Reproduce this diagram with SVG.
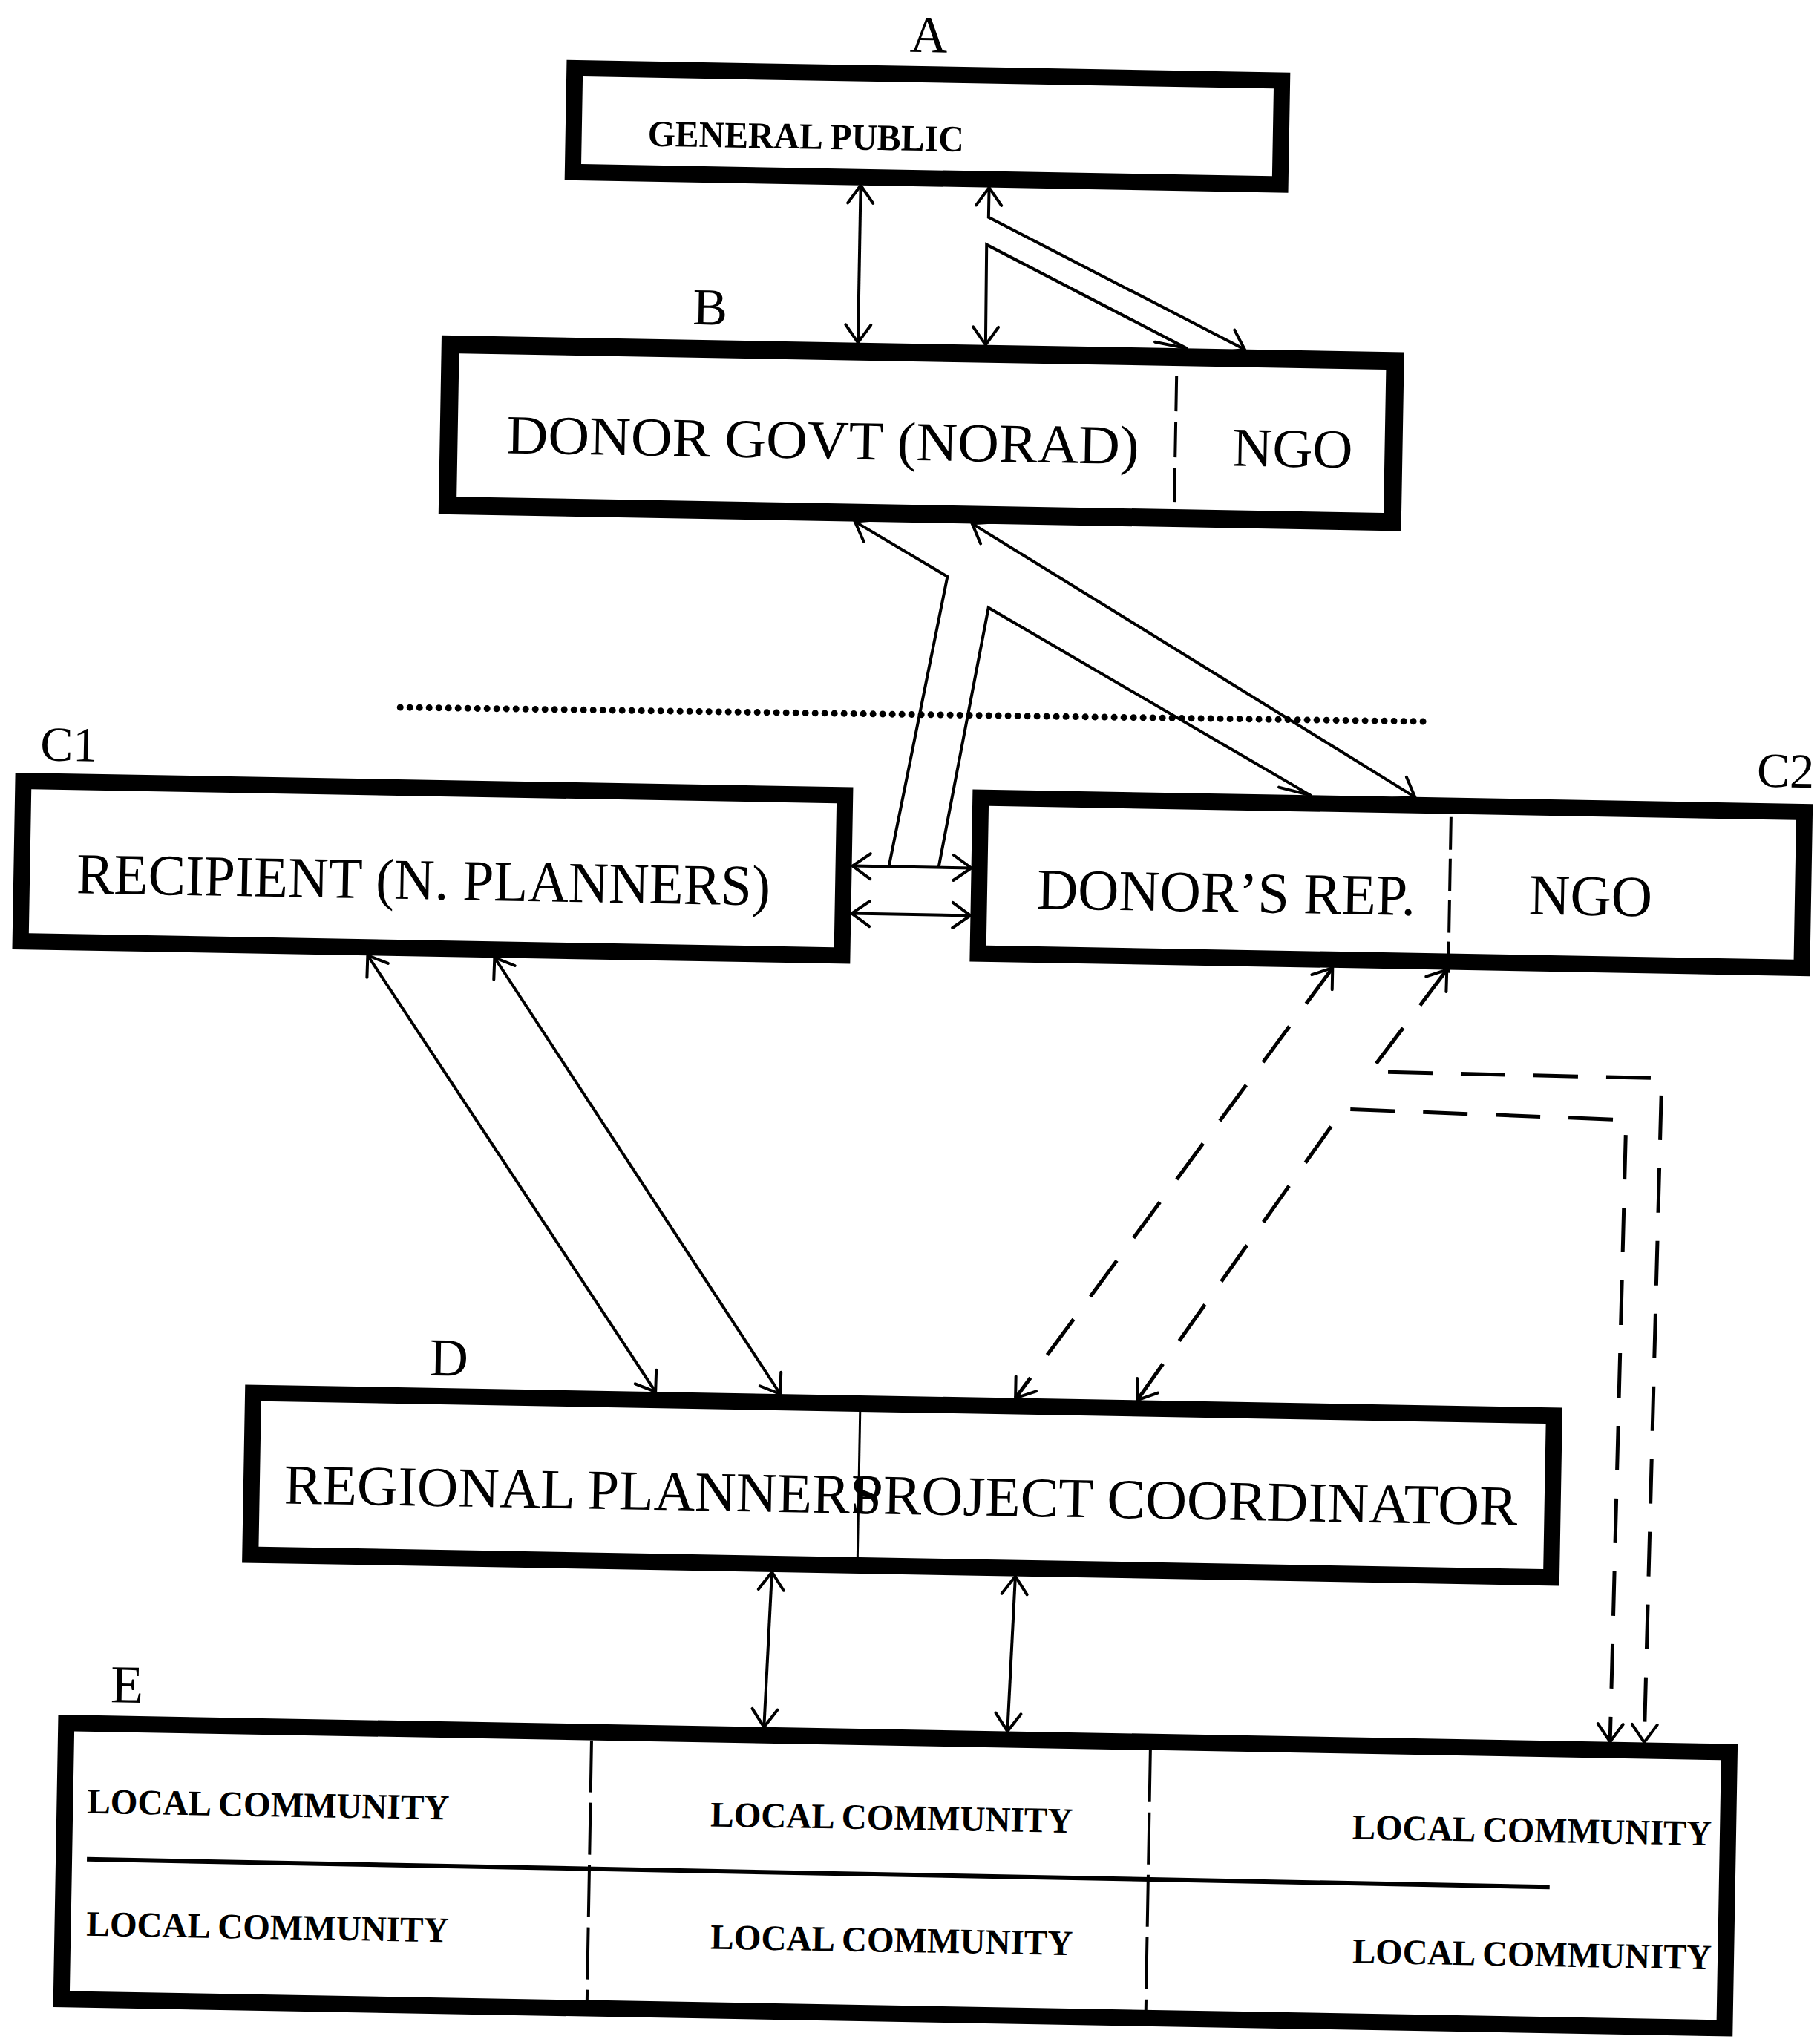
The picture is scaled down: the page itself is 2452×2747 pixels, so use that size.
<svg xmlns="http://www.w3.org/2000/svg" width="2452" height="2747" viewBox="0 0 2452 2747">
<style>
.box{fill:#fff;stroke:#000}
.conn{fill:none;stroke:#000;stroke-width:4;stroke-linejoin:miter}
.dash{stroke-width:5;stroke-dasharray:60 38}
.div{stroke:#000;fill:none}
text{font-family:"Liberation Serif","Times New Roman",serif;fill:#000}
.lbl{font-size:70px}
.lc{font-size:48px;font-weight:bold}
</style>
<defs>
<marker id="arr" viewBox="-40 -25 45 50" refX="0" refY="0" markerWidth="45" markerHeight="50" markerUnits="userSpaceOnUse" orient="auto-start-reverse">
<path d="M-24,-17 L0,0 L-24,17" fill="none" stroke="#000" stroke-width="4" stroke-linecap="round"/>
</marker>
<marker id="half" viewBox="-50 -20 55 40" refX="0" refY="0" markerWidth="55" markerHeight="40" markerUnits="userSpaceOnUse" orient="auto">
<path d="M0,0 L-42,12" fill="none" stroke="#000" stroke-width="4" stroke-linecap="round"/>
</marker>
</defs>
<rect x="0" y="0" width="2452" height="2747" fill="#fff"/>
<g transform="rotate(1 1226 1373)">
<g id="node-A">
<text class="lbl" x="1228" y="70" text-anchor="middle">A</text>
<rect class="box" x="752" y="100" width="953" height="140" stroke-width="22"/>
<text x="852" y="203" font-size="50" font-weight="bold" textLength="426" lengthAdjust="spacingAndGlyphs">GENERAL PUBLIC</text>
</g>
<g id="node-B">
<text class="lbl" x="940" y="442" text-anchor="middle" font-size="68">B</text>
<rect class="box" x="591" y="475" width="1273" height="217" stroke-width="24"/>
<line class="div" x1="1570" y1="500" x2="1570" y2="670" stroke-width="4" stroke-dasharray="48 14"/>
<text x="669" y="620" font-size="74" textLength="852" lengthAdjust="spacingAndGlyphs">DONOR GOVT (NORAD)</text>
<text x="1647" y="620" font-size="74" textLength="162" lengthAdjust="spacingAndGlyphs">NGO</text>
</g>
<g id="node-C1">
<text x="48" y="1045" font-size="66">C1</text>
<rect class="box" x="26" y="1073" width="1107" height="216" stroke-width="22"/>
<text x="100" y="1223" font-size="78" textLength="935" lengthAdjust="spacingAndGlyphs">RECIPIENT (N. PLANNERS)</text>
</g>
<g id="node-C2">
<text x="2361" y="1040" font-size="66">C2</text>
<rect class="box" x="1316" y="1073" width="1110" height="210" stroke-width="22"/>
<line class="div" x1="1950" y1="1088" x2="1950" y2="1298" stroke-width="4" stroke-dasharray="44 12"/>
<text x="1394" y="1221" font-size="78" textLength="510" lengthAdjust="spacingAndGlyphs">DONOR’S REP.</text>
<text x="2057" y="1217" font-size="78" textLength="166" lengthAdjust="spacingAndGlyphs">NGO</text>
</g>
<g id="node-D">
<text x="587" y="1864" font-size="72">D</text>
<rect class="box" x="350" y="1892" width="1753" height="218" stroke-width="22"/>
<line class="div" x1="1168" y1="1902" x2="1168" y2="2100" stroke-width="3"/>
<text x="394" y="2040" font-size="76" textLength="805" lengthAdjust="spacingAndGlyphs">REGIONAL PLANNERS</text>
<text x="1158" y="2040" font-size="76" textLength="898" lengthAdjust="spacingAndGlyphs">PROJECT COORDINATOR</text>
</g>
<g id="node-E">
<text x="165" y="2312" font-size="72">E</text>
<rect class="box" x="106" y="2341" width="2241" height="372" stroke-width="22"/>
<line class="div" x1="814" y1="2352" x2="814" y2="2712" stroke-width="4" stroke-dasharray="70 14"/>
<line class="div" x1="1567" y1="2352" x2="1567" y2="2712" stroke-width="4" stroke-dasharray="70 14"/>
<line class="div" x1="137" y1="2524" x2="2108" y2="2527" stroke-width="6"/>
<text class="lc" x="136" y="2462" textLength="488" lengthAdjust="spacingAndGlyphs">LOCAL COMMUNITY</text>
<text class="lc" x="976" y="2465" textLength="488" lengthAdjust="spacingAndGlyphs">LOCAL COMMUNITY</text>
<text class="lc" x="1841" y="2467" textLength="484" lengthAdjust="spacingAndGlyphs">LOCAL COMMUNITY</text>
<text class="lc" x="138" y="2627" textLength="488" lengthAdjust="spacingAndGlyphs">LOCAL COMMUNITY</text>
<text class="lc" x="979" y="2630" textLength="488" lengthAdjust="spacingAndGlyphs">LOCAL COMMUNITY</text>
<text class="lc" x="1844" y="2634" textLength="484" lengthAdjust="spacingAndGlyphs">LOCAL COMMUNITY</text>
</g>
<g id="connectors">
<path class="conn" d="M1140,251 L1140,463" marker-start="url(#arr)" marker-end="url(#arr)"/>
<path class="conn" d="M1313,251 L1313,291 L1661,463" marker-start="url(#arr)" marker-end="url(#arr)"/>
<path class="conn" d="M1312,463 L1311,328 L1583,463" marker-start="url(#arr)" marker-end="url(#half)"/>
<path class="conn" d="M1140,704 L1266,776 L1194,1168" marker-start="url(#arr)"/>
<path class="conn" d="M1261,1168 L1322,817 L1760,1062" marker-end="url(#half)"/>
<path class="conn" d="M1145,1168 L1305,1168" marker-start="url(#arr)" marker-end="url(#arr)"/>
<path class="conn" d="M1145,1232 L1305,1232" marker-start="url(#arr)" marker-end="url(#arr)"/>
<path class="conn" d="M1298,704 L1901,1062" marker-start="url(#arr)" marker-end="url(#arr)"/>
<path class="conn" d="M494,1300 L892,1881" marker-start="url(#arr)" marker-end="url(#arr)"/>
<path class="conn" d="M665,1300 L1060,1881" marker-start="url(#arr)" marker-end="url(#arr)"/>
<path class="conn dash" d="M1794,1294 L1377,1881" marker-start="url(#arr)" marker-end="url(#arr)"/>
<path class="conn dash" d="M1948,1294 L1847,1433 L2240,1435 L2232,2330" marker-start="url(#arr)" marker-end="url(#arr)"/>
<path class="conn dash" d="M1541,1881 L1812,1484 L2193,1492 L2186,2330" marker-start="url(#arr)" marker-end="url(#arr)"/>
<path class="conn" d="M1053,2121 L1046,2330" marker-start="url(#arr)" marker-end="url(#arr)"/>
<path class="conn" d="M1381,2121 L1374,2330" marker-start="url(#arr)" marker-end="url(#arr)"/>
<path d="M532,965 L1920,960" fill="none" stroke="#000" stroke-width="9" stroke-linecap="round" stroke-dasharray="0 13"/>
</g>
</g>
</svg>
